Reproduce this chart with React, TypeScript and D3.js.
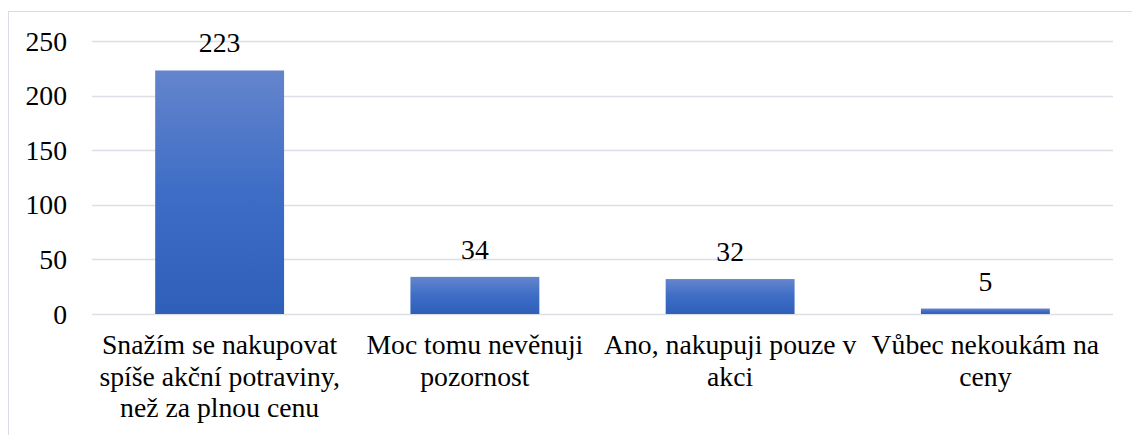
import React from "react";
import * as d3 from "d3";

const categories: string[][] = [
  ["Snažím se nakupovat", "spíše akční potraviny,", "než za plnou cenu"],
  ["Moc tomu nevěnuji", "pozornost"],
  ["Ano, nakupuji pouze v", "akci"],
  ["Vůbec nekoukám na", "ceny"],
];
const values: number[] = [223, 34, 32, 5];
const yTicks: number[] = [0, 50, 100, 150, 200, 250];

const W = 1132;
const H = 435;
const plotLeft = 92;
const plotRight = 1113;
const plotTop = 41;
const plotBottom = 314;

export default function App() {
  const x = d3
    .scaleBand<number>()
    .domain(values.map((_, i) => i))
    .range([plotLeft, plotRight])
    .paddingInner(0.495)
    .paddingOuter(0.2475);
  const y = d3.scaleLinear().domain([0, 250]).range([plotBottom, plotTop]);
  const txt = { fontFamily: '"Liberation Serif"', fontSize: "27.7px" } as React.CSSProperties;

  return (
    <div style={{ position: "absolute", left: 0, top: 0 }}>
      <svg width={W} height={H} style={{ display: "block" }}>
        <defs>
          <linearGradient id="barGrad" x1="0" y1="0" x2="0" y2="1">
            <stop offset="0%" stopColor="#6485CC" />
            <stop offset="50%" stopColor="#3E6DC6" />
            <stop offset="100%" stopColor="#2E5FB9" />
          </linearGradient>
        </defs>
        <rect x={0} y={0} width={W} height={H} fill="#ffffff" />
        <rect
          x={8.5}
          y={11.5}
          width={W + 10}
          height={H + 10}
          fill="none"
          stroke="#D9DDE3"
          strokeWidth={1}
        />
        {yTicks.map((t) => (
          <g key={t}>
            <line
              x1={plotLeft}
              x2={plotRight}
              y1={Math.round(y(t)) + 0.5}
              y2={Math.round(y(t)) + 0.5}
              stroke="#DCE0E6"
              strokeWidth={1.5}
            />
            <text
              x={67}
              y={y(t)}
              dy="0.35em"
              textAnchor="end"
              style={txt}
              fill="#000"
            >
              {t}
            </text>
          </g>
        ))}
        {values.map((v, i) => (
          <g key={i}>
            <rect
              x={x(i)}
              y={y(v)}
              width={x.bandwidth()}
              height={y(0) - y(v)}
              fill="url(#barGrad)"
            />
            <text
              x={(x(i) as number) + x.bandwidth() / 2}
              y={y(v) - 18}
              textAnchor="middle"
              style={txt}
              fill="#000"
            >
              {v}
            </text>
            {categories[i].map((line, j) => (
              <text
                key={j}
                x={(x(i) as number) + x.bandwidth() / 2}
                y={354 + j * 31.5}
                textAnchor="middle"
                style={txt}
                fill="#000"
              >
                {line}
              </text>
            ))}
          </g>
        ))}
      </svg>
    </div>
  );
}
